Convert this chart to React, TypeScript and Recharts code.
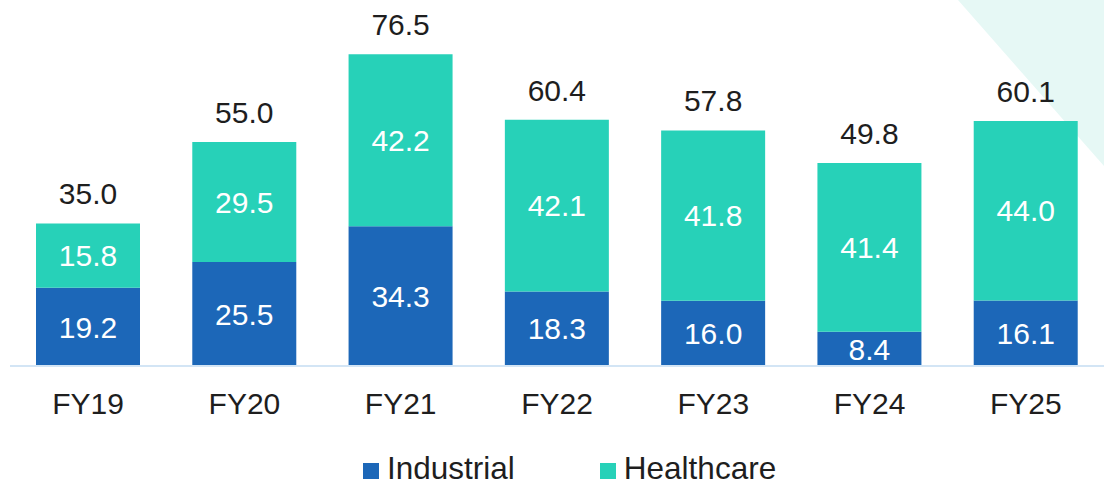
import React from 'react';
import { BarChart, Bar, XAxis, YAxis, LabelList, Legend } from 'recharts';

const categories = ['FY19', 'FY20', 'FY21', 'FY22', 'FY23', 'FY24', 'FY25'];
const industrial = [19.2, 25.5, 34.3, 18.3, 16.0, 8.4, 16.1];
const healthcare = [15.8, 29.5, 42.2, 42.1, 41.8, 41.4, 44.0];
const totals = [35.0, 55.0, 76.5, 60.4, 57.8, 49.8, 60.1];
const seriesOrder = ['Industrial', 'Healthcare'];

const data = categories.map((c, i) => ({
  name: c,
  Industrial: industrial[i],
  Healthcare: healthcare[i],
  total: totals[i],
}));

const FONT = '"Liberation Sans", Arial, sans-serif';
const IND_COLOR = '#1c67b8';
const HC_COLOR = '#27d1b8';
const TEXT_COLOR = '#1e1e1e';

const fmt = (v: any) => Number(v).toFixed(1);

const LegendContent = (props: any) => {
  const payload = [...(props.payload || [])].sort(
    (a: any, b: any) => seriesOrder.indexOf(a.value) - seriesOrder.indexOf(b.value)
  );
  return (
    <div style={{ position: 'relative', height: 56, width: 1104, fontFamily: FONT }}>
      <div style={{ display: 'flex', paddingLeft: 363, paddingTop: 30 }}>
        {payload.map((p: any, i: number) => (
          <div key={i} style={{ display: 'flex', alignItems: 'flex-start', marginRight: 85 }}>
            <span style={{ display: 'inline-block', width: 16, height: 16, background: p.color, marginTop: 7, marginRight: 8 }} />
            <span style={{ fontSize: 31.5, lineHeight: '24px', color: TEXT_COLOR, whiteSpace: 'nowrap' }}>{p.value}</span>
          </div>
        ))}
      </div>
    </div>
  );
};

export default function App() {
  return (
    <div style={{ position: 'absolute', left: 0, top: 0, width: 1104, height: 482, background: '#fff', overflow: 'hidden' }}>
      <svg width={1104} height={482} style={{ position: 'absolute', left: 0, top: 0 }}>
        <polygon points="958,0 1104,0 1104,166" fill="#e6f8f5" />
      </svg>
      <div style={{ position: 'absolute', left: 0, top: 0 }}>
        <BarChart
          width={1104}
          height={482}
          data={data}
          margin={{ top: 40, right: 0, left: 10, bottom: 0 }}
          style={{ fontFamily: FONT }}
        >
          <XAxis
            dataKey="name"
            tickLine={false}
            tickSize={0}
            tickMargin={27}
            height={60}
            axisLine={{ stroke: '#d3e5f5', strokeWidth: 2 }}
            tick={{ fontSize: 30, fill: TEXT_COLOR, fontFamily: FONT }}
            interval={0}
          />
          <YAxis hide domain={[0, 80]} />
          <Legend
            verticalAlign="bottom"
            align="left"
            height={56}
            itemSorter={null as any}
            wrapperStyle={{ left: 0, bottom: 0, width: 1104, height: 56 }}
            content={<LegendContent />}
          />
          <Bar dataKey="Industrial" stackId="a" fill={IND_COLOR} barSize={104} isAnimationActive={false}>
            <LabelList dataKey="Industrial" position="center" formatter={fmt} fill="#ffffff" fontSize={30} fontFamily={FONT} />
          </Bar>
          <Bar dataKey="Healthcare" stackId="a" fill={HC_COLOR} barSize={104} isAnimationActive={false}>
            <LabelList dataKey="Healthcare" position="center" formatter={fmt} fill="#ffffff" fontSize={30} fontFamily={FONT} />
            <LabelList dataKey="total" position="top" offset={19} formatter={fmt} fill={TEXT_COLOR} fontSize={30} fontFamily={FONT} />
          </Bar>
        </BarChart>
      </div>
    </div>
  );
}
